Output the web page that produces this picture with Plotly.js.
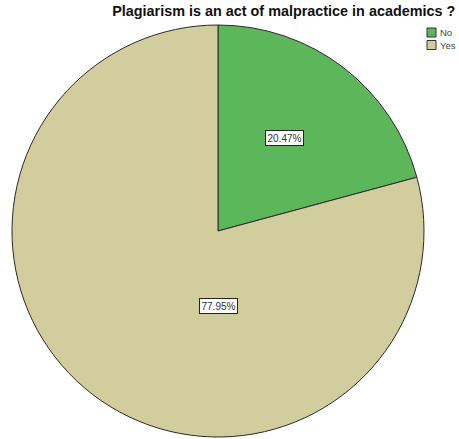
<!DOCTYPE html>
<html><head><meta charset="utf-8">
<script src="https://cdn.plot.ly/plotly-3.0.1.min.js"></script>
<style>html,body{margin:0;padding:0;background:#fff}#c{width:459px;height:439px}</style>
</head><body><div id="c"></div>
<script>
const categories = ["No", "Yes"];
const percents = [20.47, 77.95];
const colors = ["#5BB75A", "#D2CD9D"];
const labelText = percents.map(v => v.toFixed(2) + "%");

const W = 459, H = 439;
const FONT = "Liberation Sans, Arial, sans-serif";
const trace = {
  type: "pie",
  labels: categories,
  values: percents,
  sort: false,
  direction: "clockwise",
  rotation: 0,
  textinfo: "none",
  hoverinfo: "label+percent",
  showlegend: false,
  marker: {colors: colors, line: {color: "#2a2a2a", width: 1}},
  domain: {x: [11/W, 425/W], y: [2/H, 414/H]}
};
const annPos = [[284/W, 1-138/H], [218/W, 1-306/H]];
const annotations = labelText.map((t, i) => ({
  text: t, x: annPos[i][0], y: annPos[i][1], xref: "paper", yref: "paper",
  xanchor: "center", yanchor: "middle",
  showarrow: false, font: {family: FONT, size: 10, color: "#333"},
  bgcolor: "#fff", bordercolor: "#222", borderwidth: 1, borderpad: 1.5
}));
// custom compact legend
const legX = 427, legY0 = 28, legStep = 12.5, sw = 9;
const shapes = [];
categories.forEach((c, i) => {
  const top = legY0 + i * legStep;
  shapes.push({type: "rect", xref: "paper", yref: "paper",
    x0: legX / W, x1: (legX + sw) / W, y0: 1 - (top + sw) / H, y1: 1 - top / H,
    fillcolor: colors[i], line: {color: "#333", width: 1}});
  annotations.push({text: c, xref: "paper", yref: "paper", x: (legX + sw + 2) / W,
    y: 1 - (top + sw / 2) / H, xanchor: "left", yanchor: "middle", showarrow: false,
    font: {family: FONT, size: 9.5, color: "#444"}});
});
const layout = {
  width: W, height: H,
  margin: {l: 0, r: 0, t: 0, b: 0, autoexpand: false},
  paper_bgcolor: "#fff",
  title: {text: "<b>Plagiarism is an act of malpractice in academics ?</b>",
    font: {family: FONT, size: 14.4, color: "#111"},
    x: 0.992, xanchor: "right", xref: "paper", y: 0.976, yanchor: "middle"},
  showlegend: false,
  shapes: shapes,
  annotations: annotations
};
Plotly.newPlot("c", [trace], layout, {displayModeBar: false});
</script></body></html>
